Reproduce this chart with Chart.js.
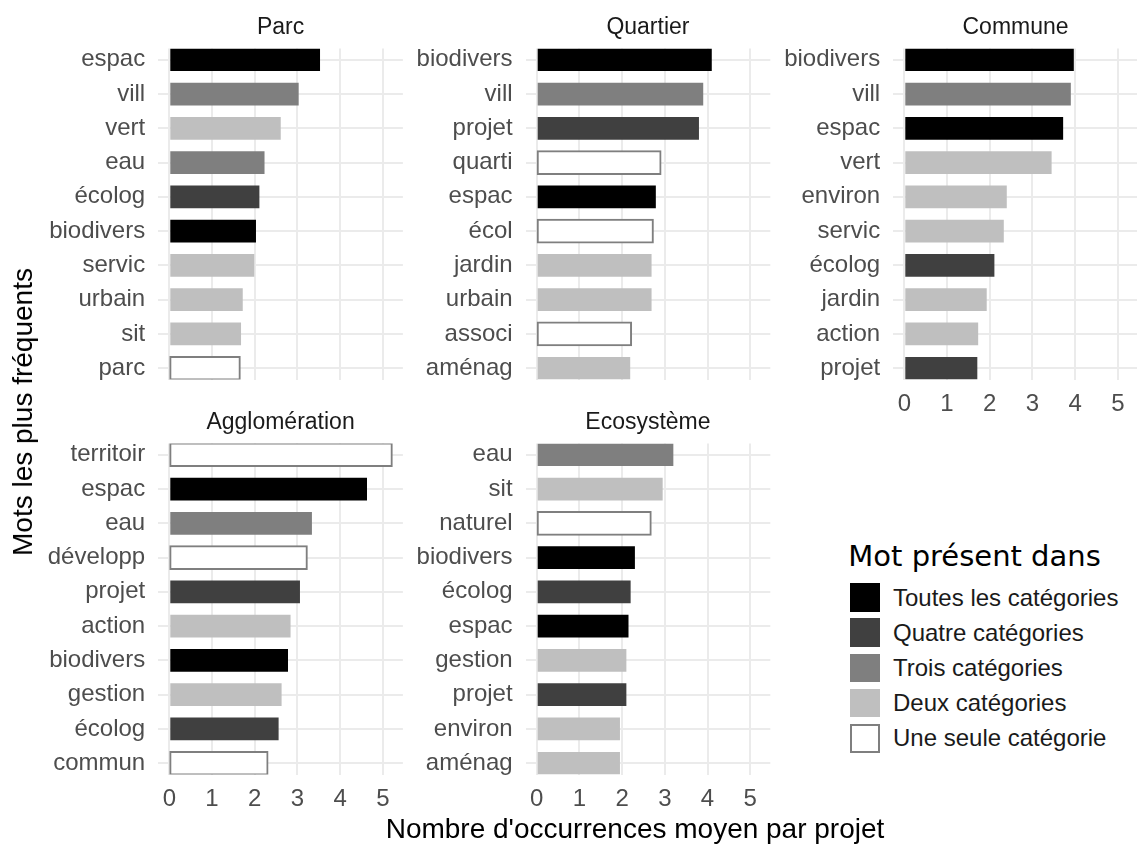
<!DOCTYPE html>
<html>
<head>
<meta charset="utf-8">
<script src="https://cdn.jsdelivr.net/npm/chart.js@4/dist/chart.umd.min.js"></script>
<style>
  html, body { margin: 0; padding: 0; background: #fff; overflow: hidden; }
  body { width: 1137px; height: 845px; position: relative; font-family: "Liberation Sans", Arial, sans-serif; }
  canvas { position: absolute; }
  .txt { position: absolute; line-height: 1; white-space: nowrap; }
  .key { position: absolute; box-sizing: border-box; }
</style>
</head>
<body>
<script>
// facets and legend
const facets = ["Parc", "Quartier", "Commune", "Agglomération", "Ecosystème"];
const legendLabels = ["Toutes les catégories", "Quatre catégories", "Trois catégories", "Deux catégories", "Une seule catégorie"];
const fills = ["#000000", "#404040", "#7F7F7F", "#BFBFBF", "#FFFFFF"];
const xTicks = [0, 1, 2, 3, 4, 5];

// groups: index into legendLabels (0 = toutes ... 4 = une seule)
const parcWords = ["espac", "vill", "vert", "eau", "écolog", "biodivers", "servic", "urbain", "sit", "parc"];
const parcValues = [3.53, 3.03, 2.61, 2.23, 2.11, 2.03, 1.99, 1.72, 1.68, 1.65];
const parcGroups = [0, 2, 3, 2, 1, 0, 3, 3, 3, 4];

const quartierWords = ["biodivers", "vill", "projet", "quarti", "espac", "écol", "jardin", "urbain", "associ", "aménag"];
const quartierValues = [4.10, 3.90, 3.80, 2.90, 2.79, 2.72, 2.69, 2.69, 2.21, 2.19];
const quartierGroups = [0, 2, 1, 4, 0, 4, 3, 3, 4, 3];

const communeWords = ["biodivers", "vill", "espac", "vert", "environ", "servic", "écolog", "jardin", "action", "projet"];
const communeValues = [3.97, 3.90, 3.72, 3.45, 2.40, 2.33, 2.11, 1.93, 1.73, 1.71];
const communeGroups = [0, 2, 0, 3, 3, 3, 1, 3, 3, 1];

const aggloWords = ["territoir", "espac", "eau", "développ", "projet", "action", "biodivers", "gestion", "écolog", "commun"];
const aggloValues = [5.21, 4.63, 3.34, 3.22, 3.06, 2.84, 2.78, 2.63, 2.56, 2.30];
const aggloGroups = [4, 0, 2, 4, 1, 3, 0, 3, 1, 4];

const ecoWords = ["eau", "sit", "naturel", "biodivers", "écolog", "espac", "gestion", "projet", "environ", "aménag"];
const ecoValues = [3.20, 2.95, 2.67, 2.30, 2.20, 2.15, 2.10, 2.10, 1.95, 1.95];
const ecoGroups = [2, 3, 4, 0, 1, 0, 3, 1, 3, 3];

const xTitle = "Nombre d'occurrences moyen par projet";
const yTitle = "Mots les plus fréquents";
const legendTitle = "Mot présent dans";

const panels = [
  { title: facets[0], words: parcWords, values: parcValues, groups: parcGroups },
  { title: facets[1], words: quartierWords, values: quartierValues, groups: quartierGroups },
  { title: facets[2], words: communeWords, values: communeValues, groups: communeGroups },
  { title: facets[3], words: aggloWords, values: aggloValues, groups: aggloGroups },
  { title: facets[4], words: ecoWords, values: ecoValues, groups: ecoGroups }
];

// layout
const UNIT = 42.7;
const ZERO_X = [169.3, 536.7, 904.3];
const ROW_TOP = [48.5, 443.5];
const PANEL_H = 331;
const HALF = 0.33;
const STRIP_SIZE = 23;
const TICK_SIZE = 24;
const TITLE_H = STRIP_SIZE * 1.2 + 10;
const FOOT = 40;
const LABEL_SPACE = 150;
const GRID = "#EBEBEB";

const maxVal = Math.max(...panels.flatMap(p => p.values));
const xMin = -0.05 * maxVal;
const xMax = 1.05 * maxVal;

Chart.defaults.font.family = '"Liberation Sans", Arial, sans-serif';

panels.forEach((p, idx) => {
  const col = idx % 3;
  const row = Math.floor(idx / 3);
  const showX = idx >= 2;
  const pl = ZERO_X[col] + xMin * UNIT;
  const pr = ZERO_X[col] + xMax * UNIT;
  const pt = ROW_TOP[row];
  const pb = pt + PANEL_H;
  const cl = Math.floor(pl - LABEL_SPACE);
  const ct = Math.floor(pt - TITLE_H - 2);
  const cw = Math.ceil(pr - cl);
  const ch = Math.ceil(pb + FOOT - ct) + 1;

  const canvas = document.createElement("canvas");
  canvas.width = cw;
  canvas.height = ch;
  canvas.style.cssText = `left:${cl}px;top:${ct}px;width:${cw}px;height:${ch}px`;
  document.body.appendChild(canvas);

  const n = p.words.length;
  new Chart(canvas, {
    type: "bar",
    data: {
      datasets: [{
        data: p.values.map((v, i) => ({ x: v, y: i + 1 })),
        backgroundColor: p.groups.map(g => fills[g]),
        borderColor: p.groups.map(g => g === 4 ? "#7F7F7F" : fills[g]),
        borderWidth: p.groups.map(g => g === 4 ? 2 : 0),
        inflateAmount: p.groups.map(g => g === 4 ? 1 : 0),
        borderSkipped: false,
        barPercentage: 2 * HALF,
        categoryPercentage: 1
      }]
    },
    options: {
      responsive: false,
      animation: false,
      indexAxis: "y",
      layout: {
        padding: {
          left: 0,
          top: pt - TITLE_H - ct,
          right: cw - (pr - cl),
          bottom: ch - (pb + FOOT - ct)
        }
      },
      plugins: {
        legend: { display: false },
        tooltip: { enabled: false },
        title: {
          display: true,
          text: p.title,
          fullSize: false,
          color: "#1A1A1A",
          font: { size: STRIP_SIZE, weight: "normal", lineHeight: 1.2 },
          padding: { top: 2.5, bottom: 7.5 }
        }
      },
      scales: {
        x: {
          type: "linear",
          min: xMin,
          max: xMax,
          afterBuildTicks: s => { s.ticks = xTicks.map(v => ({ value: v })); },
          afterFit: s => { s.height = FOOT; },
          ticks: { display: showX, color: "#4D4D4D", font: { size: TICK_SIZE }, padding: 10.5, autoSkip: false, maxRotation: 0 },
          grid: { color: GRID, lineWidth: 2, drawTicks: false },
          border: { display: false }
        },
        y: {
          type: "linear",
          reverse: true,
          offset: false,
          min: 1 - HALF,
          max: n + HALF,
          afterBuildTicks: s => { s.ticks = p.words.map((_, i) => ({ value: i + 1 })); },
          afterFit: s => { s.width = pl - cl; },
          ticks: { callback: v => p.words[v - 1], color: "#4D4D4D", font: { size: TICK_SIZE }, padding: 13, autoSkip: false },
          grid: { color: GRID, lineWidth: 2, drawTicks: false, offset: false },
          border: { display: false }
        }
      }
    }
  });
});

function addText(text, x, cy, size, opts) {
  const d = document.createElement("div");
  d.className = "txt";
  d.textContent = text;
  d.style.fontSize = size + "px";
  d.style.color = opts.color || "#000";
  if (opts.family) d.style.fontFamily = opts.family;
  d.style.top = (cy - size / 2) + "px";
  d.style.left = x + "px";
  if (opts.center) {
    d.style.transform = opts.rotate ? "translateX(-50%) rotate(-90deg)" : "translateX(-50%)";
    d.style.transformOrigin = "50% 50%";
  }
  document.body.appendChild(d);
  return d;
}

// axis titles
addText(xTitle, 635, 829, 28, { center: true });
addText(yTitle, 23.3, 412, 28, { center: true, rotate: true });

// legend
addText(legendTitle, 848.3, 556.7, 29, { family: '"DejaVu Sans", sans-serif', color: "#000" });
legendLabels.forEach((lab, i) => {
  const cy = 597.5 + i * 35.2;
  const k = document.createElement("div");
  k.className = "key";
  k.style.cssText = `left:850px;top:${cy - 14.25}px;width:30px;height:28.5px;background:${fills[i]};` +
    (i === 4 ? "border:2px solid #7F7F7F;" : "");
  document.body.appendChild(k);
  addText(lab, 893, cy, TICK_SIZE, { color: "#1A1A1A" });
});
</script>
</body>
</html>
